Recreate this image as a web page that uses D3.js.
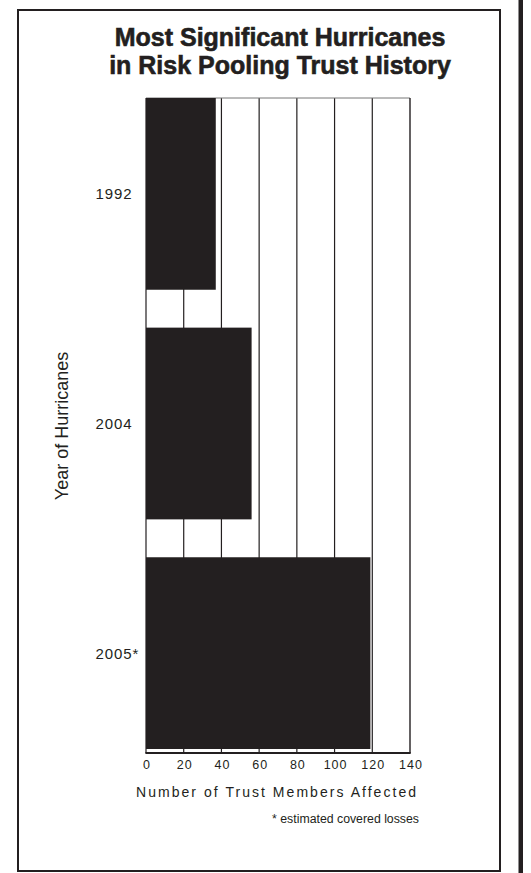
<!DOCTYPE html>
<html>
<head>
<meta charset="utf-8">
<script src="https://cdn.jsdelivr.net/npm/d3@7"></script>
<style>
  html, body { margin: 0; padding: 0; background: #fff; }
  svg { display: block; }
  text { font-family: "Liberation Sans", Arial, Helvetica, sans-serif; fill: #231f20; }
</style>
</head>
<body>
<svg id="chart" width="531" height="873"></svg>
<script>
// Hurricane years and trust members affected
const years = ["1992", "2004", "2005*"];
const membersAffected = [37, 56, 119];
const xTicks = [0, 20, 40, 60, 80, 100, 120, 140];
const titleLines = ["Most Significant Hurricanes", "in Risk Pooling Trust History"];
const yTitle = "Year of Hurricanes";
const xTitle = "Number of Trust Members Affected";
const footnote = "* estimated covered losses";

const ink = "#231f20";
const svg = d3.select("#chart");

// page frame and the dark rule on the right edge
svg.append("rect").attr("x", 0).attr("y", 0).attr("width", 531).attr("height", 873).attr("fill", "#fff");
svg.append("rect")
  .attr("x", 18).attr("y", 10).attr("width", 482).attr("height", 861)
  .attr("fill", "none").attr("stroke", ink).attr("stroke-width", 2);
svg.append("rect")
  .attr("x", 518.5).attr("y", 0).attr("width", 4.5).attr("height", 873)
  .attr("fill", ink);

// title
svg.append("g").selectAll("text").data(titleLines).join("text")
  .attr("x", 280)
  .attr("y", (d, i) => 46 + i * 28)
  .attr("text-anchor", "middle")
  .attr("font-size", 25)
  .attr("font-weight", "bold")
  .attr("stroke", ink).attr("stroke-width", 0.6)
  .text(d => d);

// scales
const plot = { left: 146, right: 410, top: 98, bottom: 753, barBottom: 749 };
const x = d3.scaleLinear().domain([0, 140]).range([plot.left, plot.right]);
const y = d3.scaleBand().domain(years).range([plot.top, plot.barBottom]).paddingInner(0.165).paddingOuter(0);

// vertical grid lines
svg.append("g").selectAll("line").data(xTicks.slice(1, -1)).join("line")
  .attr("x1", d => x(d)).attr("x2", d => x(d))
  .attr("y1", plot.top).attr("y2", plot.bottom)
  .attr("stroke", ink).attr("stroke-width", 1.2);

// plot border: top, left, right
svg.append("line").attr("x1", plot.left).attr("x2", plot.right)
  .attr("y1", plot.top).attr("y2", plot.top)
  .attr("stroke", "#777").attr("stroke-width", 1);
svg.append("line").attr("x1", plot.left).attr("x2", plot.left)
  .attr("y1", plot.top).attr("y2", plot.bottom)
  .attr("stroke", ink).attr("stroke-width", 1.2);
svg.append("line").attr("x1", plot.right).attr("x2", plot.right)
  .attr("y1", plot.top).attr("y2", plot.bottom)
  .attr("stroke", ink).attr("stroke-width", 1.4);

// bars
svg.append("g").selectAll("rect").data(years).join("rect")
  .attr("x", x(0))
  .attr("y", d => y(d))
  .attr("width", (d, i) => x(membersAffected[i]) - x(0))
  .attr("height", y.bandwidth())
  .attr("fill", ink);

// x axis baseline
svg.append("line").attr("x1", plot.left - 0.6).attr("x2", plot.right + 0.7)
  .attr("y1", plot.bottom).attr("y2", plot.bottom)
  .attr("stroke", ink).attr("stroke-width", 1.8);

// x tick labels
const xAxis = d3.axisBottom(x).tickValues(xTicks).tickSize(0).tickPadding(0);
const gx = svg.append("g").attr("transform", `translate(0,${plot.bottom})`).call(xAxis);
gx.select(".domain").remove();
gx.selectAll("text")
  .attr("y", 15.5).attr("dy", 0)
  .attr("font-size", 12.5)
  .attr("font-family", "Liberation Sans, Arial, sans-serif")
  .attr("fill", ink)
  .attr("letter-spacing", 1)
  .attr("dx", 0.5);

// y tick labels
svg.append("g").selectAll("text").data(years).join("text")
  .attr("x", 95.5)
  .attr("y", d => y(d) + y.bandwidth() / 2 + 5.4)
  .attr("font-size", 15)
  .attr("letter-spacing", 0.9)
  .text(d => d);

// axis titles
svg.append("text")
  .attr("transform", "translate(68,426) rotate(-90)")
  .attr("text-anchor", "middle")
  .attr("font-size", 18)
  .text(yTitle);

svg.append("text")
  .attr("x", 136).attr("y", 796.5)
  .attr("font-size", 14)
  .attr("textLength", 280).attr("lengthAdjust", "spacing")
  .text(xTitle);

// footnote
svg.append("text")
  .attr("x", 419).attr("y", 823)
  .attr("text-anchor", "end")
  .attr("font-size", 12.3)
  .text(footnote);
</script>
</body>
</html>
